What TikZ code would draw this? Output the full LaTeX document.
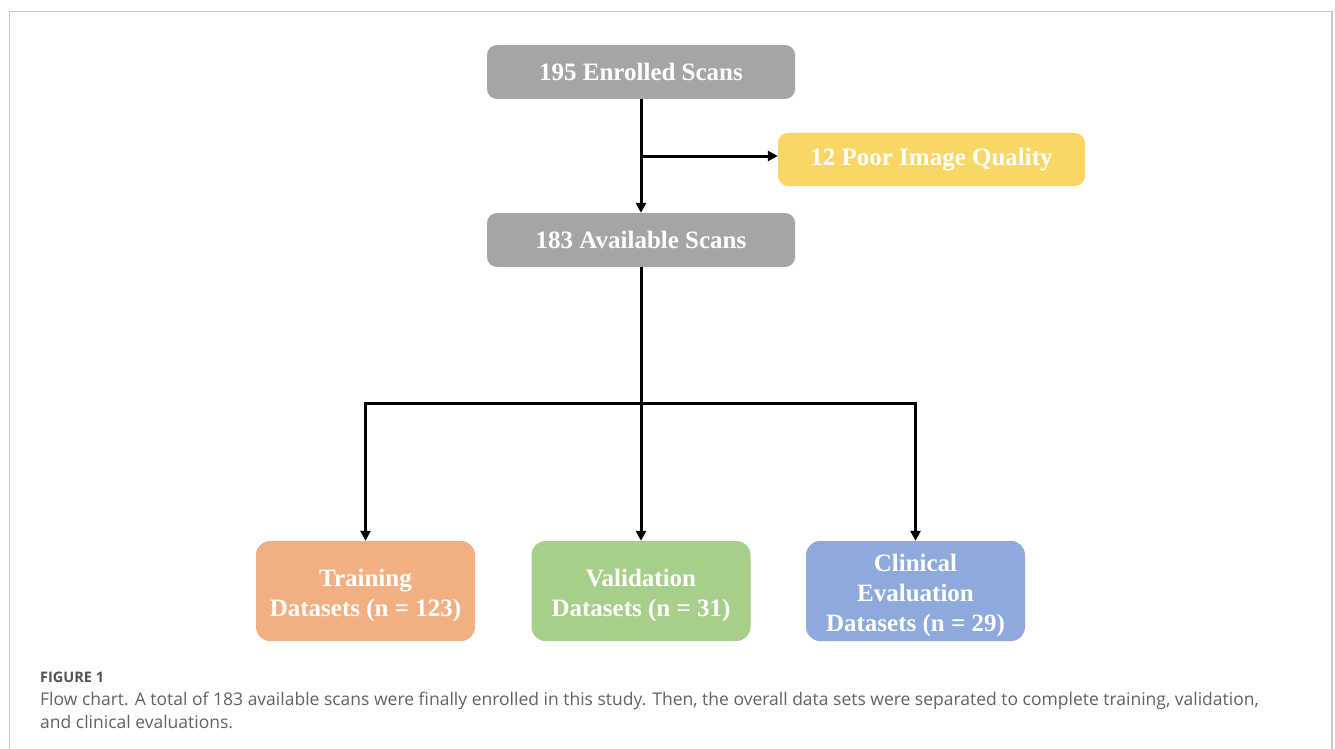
\documentclass[tikz,border=0pt]{standalone}
\usepackage{fontspec}
\setmainfont{Liberation Serif}
\newfontfamily\capfont{Open Sans}
\usetikzlibrary{arrows.meta}
\definecolor{boxgray}{HTML}{A5A5A5}
\definecolor{boxyellow}{HTML}{F9D766}
\definecolor{boxorange}{HTML}{F2AF82}
\definecolor{boxgreen}{HTML}{A7CF8B}
\definecolor{boxblue}{HTML}{8EA9DB}
\definecolor{framegray}{HTML}{C8C8C8}
\definecolor{capgray}{HTML}{626262}
\begin{document}
\begin{tikzpicture}[x=1pt,y=-1pt,
  box/.style={rounded corners=10pt, text=white, font=\fontsize{25}{30}\selectfont\bfseries, align=center, inner sep=0pt},
  topbox/.style={box, minimum width=308pt, minimum height=54pt},
  botbox/.style={box, rounded corners=14pt, minimum width=219pt, minimum height=100pt},
  arr/.style={line width=3pt, -{Triangle[length=10pt,width=10pt]}},
  ln/.style={line width=3pt},
  captext/.style={anchor=base west, inner sep=0pt, text=capgray}]
\useasboundingbox (0,0) rectangle (1335,749);
\draw[framegray, line width=1.3pt] (9.5,749) -- (9.5,11.5) -- (1332,11.5) -- (1332,749);

\node[topbox, fill=boxgray] (enr) at (641,72) {195 Enrolled Scans};
\node[topbox, fill=boxyellow, minimum width=307pt, minimum height=53pt] (poor) at (931.5,159.5) {12 Poor Image Quality};
\node[topbox, fill=boxgray] (avail) at (641,240) {183 Available Scans};
\node[botbox, fill=boxorange] (train) at (365.5,591) {\rule{0pt}{27pt}Training\\Datasets (n = 123)};
\node[botbox, fill=boxgreen] (valid) at (641,591) {\rule{0pt}{27pt}Validation\\Datasets (n = 31)};
\node[botbox, fill=boxblue] (clin) at (915.5,591) {\rule{0pt}{27pt}Clinical\\Evaluation\\Datasets (n = 29)};

\coordinate (j) at (641,156);
\coordinate (split) at (641,403);
\draw[arr] (enr) -- (avail);
\draw[arr] (j) -- (poor.west |- j);
\draw[ln] (avail) -- (split);
\draw[arr] (split) -| (train);
\draw[arr] (split) -- (valid);
\draw[arr] (split) -| (clin);

\node[captext, text=capgray!85!black, font=\capfont\bfseries\fontsize{14.5}{16}\selectfont] (fig) at (40,682) {FIGURE 1};
\node[captext, font=\capfont\fontsize{17.5}{20}\selectfont] (c1) at (40,705) {Flow chart. A total of 183 available scans were finally enrolled in this study. Then, the overall data sets were separated to complete training, validation,};
\node[captext, font=\capfont\fontsize{17.5}{20}\selectfont] (c2) at (40,728) {and clinical evaluations.};
\end{tikzpicture}
\end{document}
